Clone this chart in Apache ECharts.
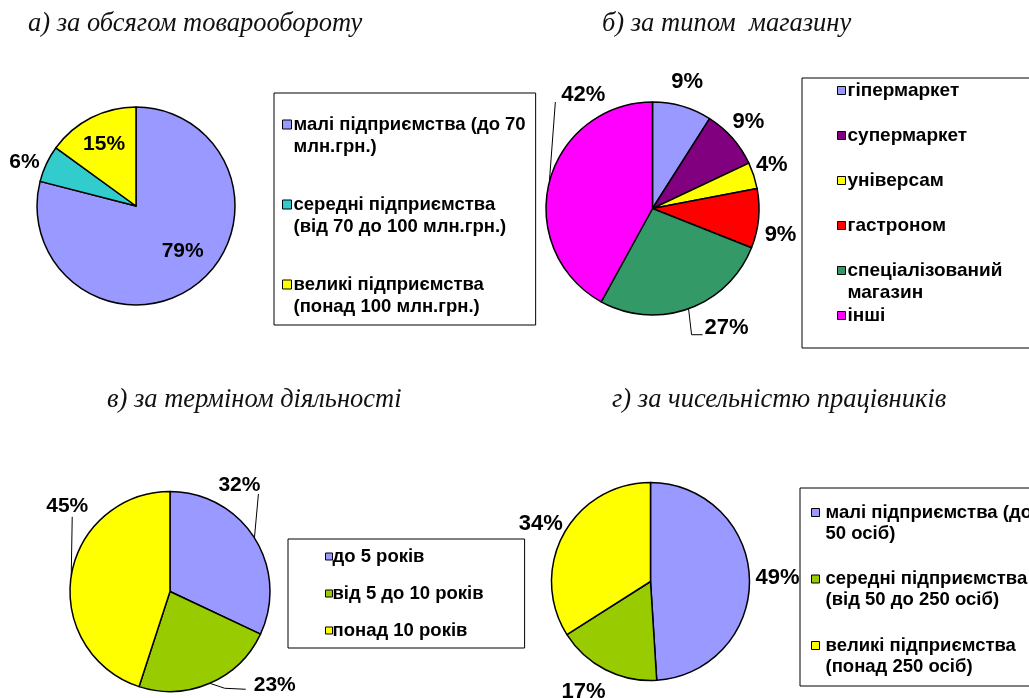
<!DOCTYPE html>
<html>
<head>
<meta charset="utf-8">
<script src="https://cdn.jsdelivr.net/npm/echarts@6/dist/echarts.min.js"></script>
<style>
  html, body { margin: 0; padding: 0; background: #fff; }
  #chart { width: 1029px; height: 698px; }
</style>
</head>
<body>
<div id="chart"></div>
<script>
// а) за обсягом товарообороту
const namesA = ['малі підприємства (до 70\nмлн.грн.)', 'середні підприємства\n(від 70 до 100 млн.грн.)', 'великі підприємства\n(понад 100 млн.грн.)'];
const valuesA = [79, 6, 15];

// б) за типом магазину
const namesB = ['гіпермаркет', 'супермаркет', 'універсам', 'гастроном', 'спеціалізований\nмагазин', 'інші'];
const valuesB = [9, 9, 4, 9, 27, 42];

// в) за терміном діяльності
const namesC = ['до 5 років', 'від 5 до 10 років', 'понад 10 років'];
const valuesC = [32, 23, 45];

// г) за чисельністю працівників
const namesD = ['малі підприємства (до\n50 осіб)', 'середні підприємства\n(від 50 до 250 осіб)', 'великі підприємства\n(понад 250 осіб)'];
const valuesD = [49, 17, 34];

const titles = ['а) за обсягом товарообороту', 'б) за типом  магазину', 'в) за терміном діяльності', 'г) за чисельністю працівників'];

const colorsA = ['#9999ff', '#33cccc', '#ffff00'];
const colorsB = ['#9999ff', '#800080', '#ffff00', '#ff0000', '#339966', '#ff00ff'];
const colorsCD = ['#9999ff', '#99cc00', '#ffff00'];

const SANS = "'Liberation Sans', Arial, sans-serif";
const SERIF = "'Liberation Serif', 'Times New Roman', serif";

// Per-panel layout: pie geometry, label offsets (from the slice's outer mid point), legend box.
const panels = [
  {
    names: namesA, values: valuesA, colors: colorsA, center: [136, 206], radius: 99, labelSize: 21,
    labels: [{ at: [-14, -33] }, { at: [-22, -2] }, { at: [13, 26] }],
    legend: { left: 274, top: 93, bottom: 322, iconX: 282, anchor: 124, step: 79, lineH: 22, icon: 9, shift: -3, fontSize: 18.5, padRight: 10 }
  },
  {
    names: namesB, values: valuesB, colors: colorsB, center: [652.5, 208.5], radius: 106.5, labelSize: 22,
    labels: [
      { at: [5, -24] }, { at: [16, -16] }, { at: [18, -11] }, { at: [22, 16] },
      { at: [38, 19], line: [[3, 26], [14, 26]] },
      { at: [34, -87], line: [[6, -80]] }
    ],
    legend: { left: 802, top: 78, bottom: 342, iconX: 837, anchor: 90, step: 44, lineH: 22, icon: 8, shift: -3, fontSize: 19, padRight: 150 }
  },
  {
    names: namesC, values: valuesC, colors: colorsCD, center: [170, 591.5], radius: 100, labelSize: 21,
    labels: [
      { at: [-15, -53], line: [[4, -44]] },
      { at: [65, 2], line: [[15, 5], [36, 6]] },
      { at: [-4, -70], line: [[1, -59]] }
    ],
    legend: { left: 288, top: 539, bottom: 645, iconX: 325, anchor: 556, step: 36, lineH: 22, icon: 7, shift: -5, fontSize: 18.5, padRight: 41 }
  },
  {
    names: namesD, values: valuesD, colors: colorsCD, center: [650.5, 581.5], radius: 99, labelSize: 22,
    labels: [{ at: [28, 0] }, { at: [-22, 22] }, { at: [-23, -10] }],
    legend: { left: 800, top: 488, bottom: 683, iconX: 811, anchor: 512, step: 65.5, lineH: 21, icon: 8, shift: 1, fontSize: 18.5, padRight: 100 }
  }
];

const titlePos = [[28, 11], [602, 11], [107, 387], [612, 387]];

// Label placement: anchor each label on the outer edge of its slice at the mid angle.
function placeLabels(panel) {
  const total = panel.values.reduce((s, v) => s + v, 0);
  let acc = 0;
  const anchors = panel.values.map(v => {
    const mid = (acc + v / 2) / total * 2 * Math.PI;
    acc += v;
    return [panel.center[0] + panel.radius * Math.sin(mid), panel.center[1] - panel.radius * Math.cos(mid)];
  });
  return function (params) {
    const p = anchors[params.dataIndex];
    const spot = panel.labels[params.dataIndex];
    const out = { x: p[0] + spot.at[0], y: p[1] + spot.at[1], align: 'center', verticalAlign: 'middle' };
    if (spot.line) {
      out.labelLinePoints = [p.slice()].concat(spot.line.map(d => [p[0] + d[0], p[1] + d[1]]));
    }
    return out;
  };
}

function buildSeries(panel) {
  return {
    type: 'pie',
    center: panel.center,
    radius: panel.radius,
    startAngle: 90,
    clockwise: true,
    avoidLabelOverlap: false,
    silent: true,
    emphasis: { disabled: true },
    itemStyle: { borderColor: '#000', borderWidth: 1.5 },
    label: {
      show: true, position: 'outside', formatter: '{c}%', color: '#000',
      fontFamily: SANS, fontWeight: 'bold', fontSize: panel.labelSize
    },
    labelLine: { show: true, length: 10, length2: 10, lineStyle: { color: '#000', width: 1 } },
    labelLayout: placeLabels(panel),
    data: panel.names.map((name, i) => ({
      name: name,
      value: panel.values[i],
      itemStyle: { color: panel.colors[i] },
      labelLine: { show: !!panel.labels[i].line }
    }))
  };
}

// Legend: tall item slots so that the marker sits level with the first text line.
function buildLegend(panel) {
  const L = panel.legend;
  const slot = 3 * L.lineH;
  const s = L.icon;
  const n = panel.names.length;
  const y0 = (slot - s) / 2;
  const lastAnchor = L.anchor + (n - 1) * L.step;
  return {
    type: 'plain',
    orient: 'vertical',
    align: 'left',
    left: L.left,
    top: L.top,
    height: 640,
    data: panel.names,
    selectedMode: false,
    itemWidth: s,
    itemHeight: slot,
    itemGap: L.step - slot,
    icon: 'path://M0,0 M0,' + y0 + ' h' + s + ' v' + s + ' h-' + s + ' Z M0,' + slot,
    itemStyle: { borderColor: '#000', borderWidth: 1 },
    formatter: name => (name.indexOf('\n') >= 0 ? '\n' + name : name),
    textStyle: {
      fontFamily: SANS, fontWeight: 'bold', fontSize: L.fontSize, lineHeight: L.lineH,
      color: '#000', padding: [0, 0, 0, L.shift]
    },
    padding: [
      L.anchor - slot / 2 - L.top,
      L.padRight,
      L.bottom - (lastAnchor + slot / 2),
      L.iconX - L.left
    ],
    borderColor: '#000',
    borderWidth: 1,
    backgroundColor: 'transparent'
  };
}

const chart = echarts.init(document.getElementById('chart'), null, { renderer: 'canvas' });
chart.setOption({
  animation: false,
  backgroundColor: '#fff',
  title: titles.map((t, i) => ({
    text: t,
    left: titlePos[i][0],
    top: titlePos[i][1],
    padding: 0,
    textStyle: { fontFamily: SERIF, fontStyle: 'italic', fontWeight: 'normal', fontSize: 26.5, color: '#111' }
  })),
  legend: panels.map(buildLegend),
  series: panels.map(buildSeries)
});
</script>
</body>
</html>
